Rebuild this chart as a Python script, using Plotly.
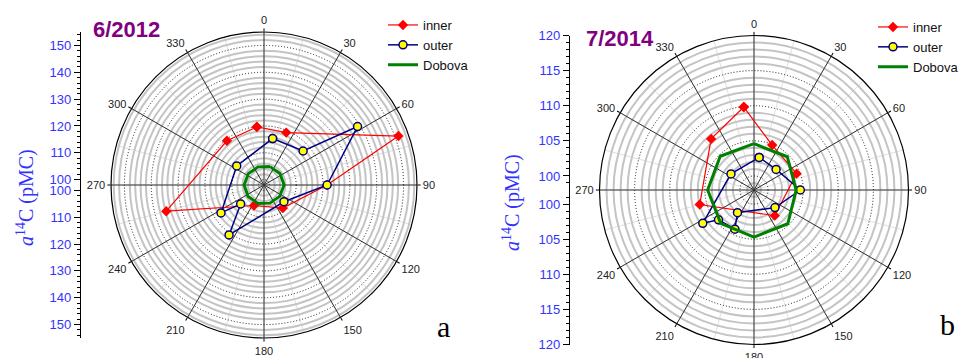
import numpy as np
import plotly.graph_objects as go

# ---------------- data ----------------
angle_ticks = list(range(0, 360, 30))

# panel a : 6/2012
a_inner_theta = [353, 23, 70, 90, 141, 206, 255, 320]
a_inner_r = [119.8, 119.2, 151.3, 121.5, 109.1, 106.5, 135.7, 119.5]
a_outer_theta = [10.5, 49, 58, 90, 130, 215, 231, 237, 305]
a_outer_r = [115.6, 117.3, 139.1, 121.5, 107.7, 120.7, 109.2, 117.1, 110.4]
a_dobova_theta = [18, 54, 90, 126, 162, 198, 234, 270, 306, 342]
a_dobova_r = [105.2, 105.3, 105.5, 105.2, 105.1, 105.2, 105.3, 105.4, 105.2, 105.1]
a_labels = [100, 110, 120, 130, 140, 150]

# panel b : 7/2014
b_inner_theta = [353, 22, 69, 141, 255, 320]
b_inner_r = [109.9, 104.9, 104.5, 102.7, 106.0, 107.5]
b_outer_theta = [9, 47, 90, 130, 216, 206, 230, 237, 305]
b_outer_r = [102.7, 102.3, 104.6, 101.9, 102.0, 104.2, 104.6, 106.7, 102.0]
b_dobova_theta = [0, 45, 90, 135, 180, 225, 270, 315]
b_dobova_r = [104.6, 104.7, 104.0, 104.8, 104.7, 104.7, 104.6, 104.8]
b_labels = [100, 105, 110, 115, 120]

series_names = ["inner", "outer", "Dobova"]
panel_titles = ["6/2012", "7/2014"]
panel_letters = ["a", "b"]

# ---------------- layout helpers ----------------
W, H = 960, 358
BLUE = "#3333ff"
SANS = "Liberation Sans, Arial, sans-serif"
SERIF = "Liberation Serif, Times New Roman, serif"

panels = [
    dict(cx=264, cy=185, R=153, rmin=98, rmax=155, major=10, minor=2, labels=a_labels,
         axis_x=80, title_x=126, title_y=29, letter_x=443, letter_y=326,
         ytitle_x=25, ytitle_y=198, leg_x=383, leg_y=10,
         inner=(a_inner_theta, a_inner_r), outer=(a_outer_theta, a_outer_r),
         dob=(a_dobova_theta, a_dobova_r)),
    dict(cx=754, cy=190, R=154.5, rmin=98, rmax=120, major=5, minor=1, labels=b_labels,
         axis_x=569, title_x=620, title_y=38, letter_x=947, letter_y=324,
         ytitle_x=511, ytitle_y=203, leg_x=873, leg_y=12,
         inner=(b_inner_theta, b_inner_r), outer=(b_outer_theta, b_outer_r),
         dob=(b_dobova_theta, b_dobova_r)),
]


def dom(p):
    return dict(x=[(p["cx"] - p["R"]) / W, (p["cx"] + p["R"]) / W],
                y=[(H - p["cy"] - p["R"]) / H, (H - p["cy"] + p["R"]) / H])


def closed(a):
    return list(a) + [a[0]]


fig = go.Figure()
layout = dict(width=W, height=H, margin=dict(l=0, r=0, t=0, b=0, autoexpand=False),
              paper_bgcolor="white", plot_bgcolor="rgba(0,0,0,0)",
              annotations=[], showlegend=True)

for i, p in enumerate(panels):
    d = dom(p)
    bg_id = "polar" if i == 0 else "polar3"
    top_id = "polar2" if i == 0 else "polar4"
    leg = "legend" if i == 0 else "legend2"

    majors = [float(v) for v in np.arange(100, p["rmax"] - 0.01, p["major"])]
    minors = [float(v) for v in np.arange(p["rmin"] + p["minor"], p["rmax"] - 0.01, p["minor"])
              if not any(abs(v - m) < 1e-6 for m in majors)]

    layout[bg_id] = dict(
        domain=d, bgcolor="white",
        radialaxis=dict(range=[p["rmin"], p["rmax"]], tickmode="array", tickvals=minors,
                        showticklabels=False, ticks="", showline=False,
                        gridcolor="#c4c4c4", gridwidth=2),
        angularaxis=dict(rotation=90, direction="clockwise", tickmode="array",
                         tickvals=list(range(0, 360, 15)), showticklabels=False, ticks="",
                         showline=False, gridcolor="#e0e0e0", gridwidth=1))
    layout[top_id] = dict(
        domain=d, bgcolor="rgba(0,0,0,0)",
        radialaxis=dict(range=[p["rmin"], p["rmax"]], tickmode="array", tickvals=majors,
                        showticklabels=False, ticks="", showline=False,
                        gridcolor="#1a1a1a", gridwidth=1, griddash="1px,2px"),
        angularaxis=dict(rotation=90, direction="clockwise", tickmode="array",
                         tickvals=angle_ticks, ticktext=[str(a) for a in angle_ticks],
                         ticks="outside", ticklen=3, tickcolor="black",
                         showline=True, linecolor="black", linewidth=1.2,
                         gridcolor="#333333", gridwidth=0.9,
                         tickfont=dict(family=SANS, size=11, color="#222222")))

    # empty trace so the background (minor grid) polar is drawn
    fig.add_trace(go.Scatterpolar(theta=[], r=[], subplot=bg_id, showlegend=False,
                                  hoverinfo="skip"))

    th, rr = p["inner"]
    fig.add_trace(go.Scatterpolar(theta=closed(th), r=closed(rr), subplot=top_id,
                                  name=series_names[0], legend=leg, mode="lines+markers",
                                  line=dict(color="#ff0000", width=1.2),
                                  marker=dict(symbol="diamond", size=8, color="#ff0000")))
    th, rr = p["outer"]
    fig.add_trace(go.Scatterpolar(theta=closed(th), r=closed(rr), subplot=top_id,
                                  name=series_names[1], legend=leg, mode="lines+markers",
                                  line=dict(color="#000080", width=1.5),
                                  marker=dict(symbol="circle", size=8, color="#ffff00",
                                              line=dict(color="#000080", width=1.5))))
    th, rr = p["dob"]
    fig.add_trace(go.Scatterpolar(theta=closed(th), r=closed(rr), subplot=top_id,
                                  name=series_names[2], legend=leg, mode="lines",
                                  line=dict(color="#008000", width=3)))

    layout[leg] = dict(x=p["leg_x"] / W, y=1 - p["leg_y"] / H, xanchor="left", yanchor="top",
                       bgcolor="rgba(0,0,0,0)", borderwidth=0,
                       font=dict(family=SANS, size=13, color="#111111"),
                       tracegroupgap=0, itemwidth=30)

    # mirrored linear radial scale drawn as a cartesian y axis
    xa = "xaxis" if i == 0 else "xaxis2"
    ya = "yaxis" if i == 0 else "yaxis2"
    span = p["rmax"] - p["rmin"]
    tv, tt = [], []
    for v in p["labels"]:
        tv += [v - p["rmin"], -(v - p["rmin"])]
        tt += [str(v), str(v)]
    mv = []
    for v in np.arange(p["rmin"] + p["minor"], p["rmax"] + 0.01, p["minor"]):
        mv += [float(v - p["rmin"]), float(-(v - p["rmin"]))]
    layout[xa] = dict(domain=[p["axis_x"] / W, p["axis_x"] / W + 0.01], visible=False,
                      range=[0, 1])
    layout[ya] = dict(anchor="free", position=p["axis_x"] / W, side="left", domain=d["y"],
                      range=[-span, span], tickmode="array", tickvals=tv, ticktext=tt,
                      ticks="outside", ticklen=6, tickwidth=1, tickcolor="black",
                      showline=True, linecolor="black", linewidth=1.2,
                      showgrid=False, zeroline=False,
                      tickfont=dict(family=SANS, size=13, color=BLUE),
                      minor=dict(tickmode="array", tickvals=mv, ticks="outside", ticklen=3,
                                 tickcolor="black", showgrid=False))
    fig.add_trace(go.Scatter(x=[], y=[], xaxis="x" if i == 0 else "x2",
                             yaxis="y" if i == 0 else "y2", showlegend=False,
                             hoverinfo="skip"))

    layout["annotations"] += [
        dict(text="<b>%s</b>" % panel_titles[i], x=p["title_x"] / W, y=1 - p["title_y"] / H,
             xref="paper", yref="paper", showarrow=False, xanchor="center", yanchor="middle",
             font=dict(family=SANS, size=22, color="#800080")),
        dict(text=panel_letters[i], x=p["letter_x"] / W, y=1 - p["letter_y"] / H,
             xref="paper", yref="paper", showarrow=False, xanchor="center", yanchor="middle",
             font=dict(family=SERIF, size=30, color="black")),
        dict(text="<i>a</i><sup>14</sup>C (pMC)", x=p["ytitle_x"] / W, y=1 - p["ytitle_y"] / H,
             xref="paper", yref="paper", showarrow=False, xanchor="center", yanchor="middle",
             textangle=-90, font=dict(family=SERIF, size=20, color=BLUE)),
    ]

fig.update_layout(**layout)
fig.write_html("out.html", config={"displayModeBar": False},
               post_script="document.body.style.margin='0';document.body.style.overflow='hidden';")
